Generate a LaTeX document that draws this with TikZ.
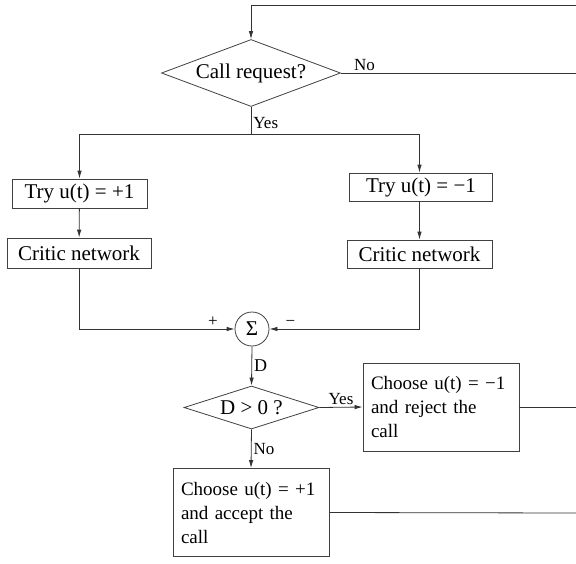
\documentclass[tikz,border=0pt]{standalone}
\usepackage{fontspec}
\setmainfont{Liberation Serif}
\usepackage{tikz}
\usetikzlibrary{arrows,arrows.meta,shapes,shapes.geometric}
\usetikzlibrary{positioning}
\tikzstyle{block}=[rectangle,draw=black!75,line width=0.8pt,inner sep=0pt,font=\fontsize{21}{24}\selectfont]
\tikzstyle{note}=[block,align=left,inner xsep=8pt,text width=140pt,minimum width=156pt,minimum height=88pt,font=\fontsize{19}{24}\selectfont]
\tikzstyle{decision}=[diamond,draw=black!75,line width=0.8pt,inner sep=0pt,aspect=2.7,font=\fontsize{21}{24}\selectfont]
\tikzstyle{sumnode}=[circle,draw=black!75,line width=0.8pt,inner sep=0pt,minimum size=34pt,font=\fontsize{21}{24}\selectfont]
\tikzstyle{flow}=[>={Latex[length=8pt,width=4.5pt]},draw,black!80,line width=0.8pt]
\tikzstyle{lbl}=[font=\fontsize{17}{19}\selectfont,inner sep=2pt,black]

\begin{document}
\begin{tikzpicture}[x=1pt,y=-1pt]
	\useasboundingbox (0,0) rectangle (576,563);
	
	\node[decision,minimum width=179pt,minimum height=67pt] (call) at (251,73) {Call request?};
	\node[block,minimum width=135pt,minimum height=29pt] (tryp) at (79.5,193.5) {Try u(t) = +1};
	\node[block,minimum width=143pt,minimum height=28pt] (trym) at (421,187) {Try u(t) = −1};
	\node[block,minimum width=144pt,minimum height=30pt] (critp) at (79,253) {Critic network};
	\node[block,minimum width=145pt,minimum height=28pt] (critm) at (419.5,254) {Critic network};
	\node[sumnode] (sum) at (252,329) {Σ};
	\node[decision,minimum width=135pt,minimum height=43pt] (test) at (251.5,407.5) {D > 0 ?};
	\node[note] (rej) at (441,407) {Choose u(t) = −1\\and reject the\\call};
	\node[note] (acc) at (251,512.5) {Choose u(t) = +1\\and accept the\\call};
	
	\coordinate (topL) at (251,5);
	\coordinate (topR) at (576,5);
	\coordinate (split) at (251,134);
	\coordinate (noR) at (576,73);
	\coordinate (rejR) at (576,407);
	\coordinate (accR) at (576,513);
	
	\path[flow,->] (topR) -- (topL) -- (call.north);
	\path[flow] (call.east) -- 
	node [lbl, pos=0.1, above] {No} (noR);
	\path[flow] (call.south) -- 
	node [lbl, pos=0.6, right] {Yes} (split);
	
	\path[flow,->] (split) -| (tryp.north);
	\path[flow,->] (split) -| (trym.north -| critm.north);
	\path[flow,->] (tryp) -- (critp);
	\path[flow,->] (trym.south -| critm.north) -- (critm.north);
	
	\path[flow,->] (critp.south) |- 
	node [lbl, pos=0.93, above] {+} (sum.west);
	\path[flow,->] (critm.south) |- 
	node [lbl, pos=0.93, above] {−} (sum.east);
	
	\path[flow,->] (sum.south) -- 
	node [lbl, right, font=\fontsize{18}{20}\selectfont] {D} (test.north);
	\path[flow,->] (test.east) -- 
	node [lbl, above] {Yes} (rej.west);
	\path[flow,->] (test.south) -- 
	node [lbl, right] {No} (acc.north);
	
	\path[flow] (rej.east) -- (rejR);
	\path[flow] (acc.east) -- (accR);
	
\end{tikzpicture}
\end{document}
